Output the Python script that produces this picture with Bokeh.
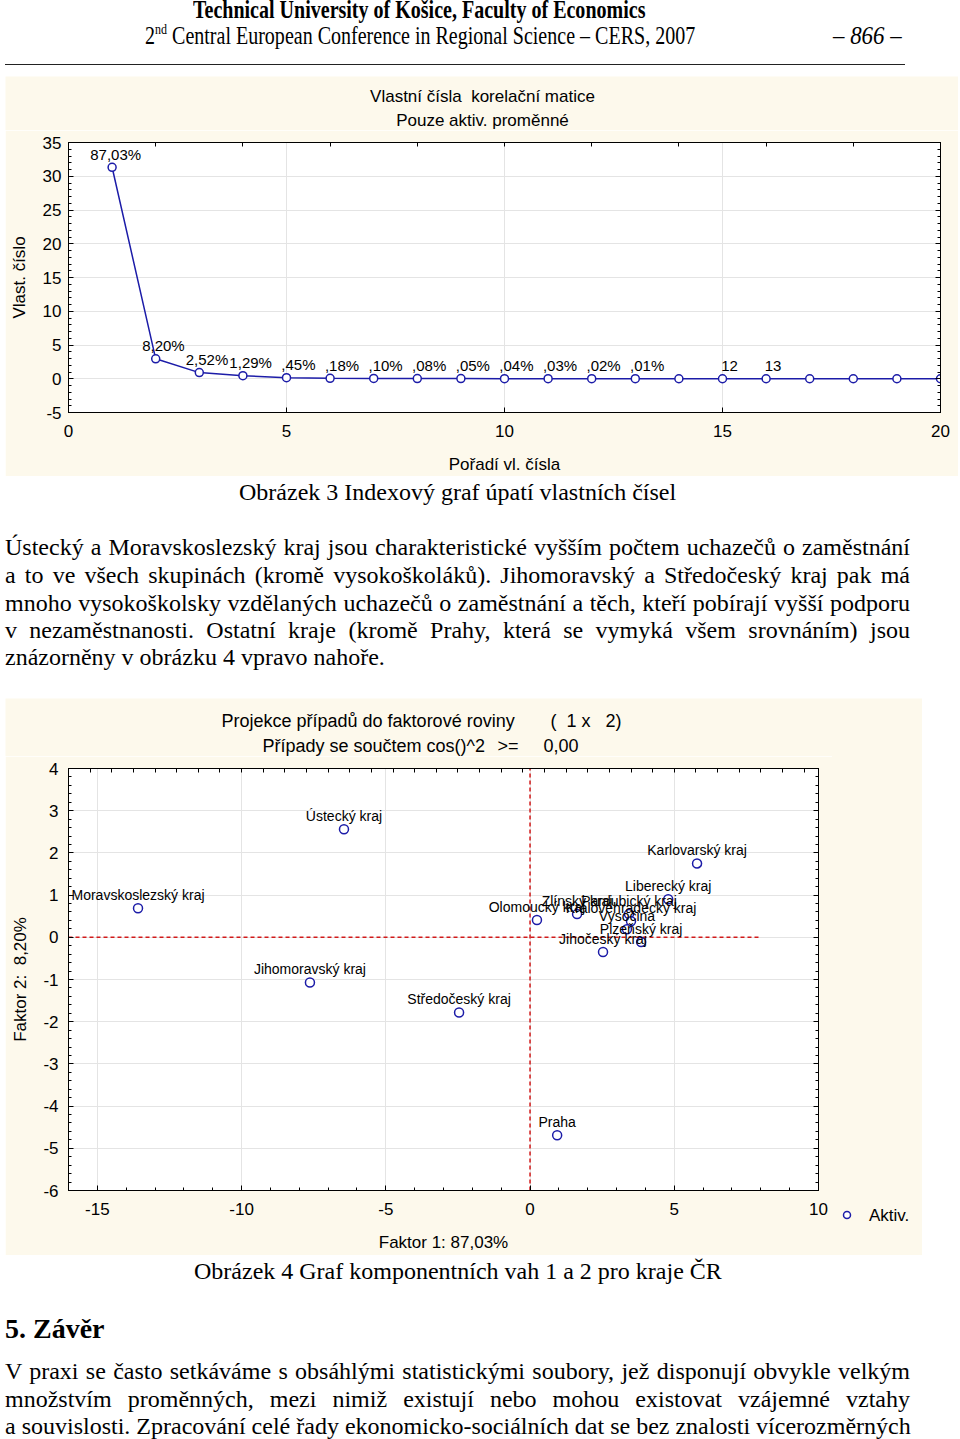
from bokeh.plotting import figure
from bokeh.models import (Div, FixedTicker, LinearAxis, ColumnDataSource, Range1d, Spacer)
from bokeh.layouts import column, row
from bokeh.embed import file_html
from bokeh.resources import INLINE
from bokeh.core.properties import value

# ---------------- data: Obrázek 3 (scree plot) ----------------
eig_order = [1, 2, 3, 4, 5, 6, 7, 8, 9, 10, 11, 12, 13, 14, 15, 16, 17, 18, 19, 20]
eig_values = [31.33, 2.95, 0.91, 0.46, 0.16, 0.06, 0.04, 0.03, 0.02, 0.01,
              0.01, 0.01, 0.004, 0.0, 0.0, 0.0, 0.0, 0.0, 0.0, 0.0]
eig_pct_labels = ["87,03%", "8,20%", "2,52%", "1,29%", ",45%", ",18%", ",10%",
                  ",08%", ",05%", ",04%", ",03%", ",02%", ",01%"]
eig_extra_order = [15, 16]
eig_extra_values = [0.0, 0.0]
eig_extra_labels = ["12", "13"]
scree_x_ticks = [0, 5, 10, 15, 20]
scree_y_ticks = [-5, 0, 5, 10, 15, 20, 25, 30, 35]

# ---------------- data: Obrázek 4 (factor plane) ----------------
regions = ["Ústecký kraj", "Karlovarský kraj", "Moravskoslezský kraj", "Liberecký kraj",
           "Olomoucký kraj", "Zlínský kraj", "Pardubický kraj", "Královéhradecký kraj",
           "Vysočina", "Plzeňský kraj", "Jihočeský kraj", "Jihomoravský kraj",
           "Středočeský kraj", "Praha"]
factor1 = [-6.45, 5.79, -13.59, 4.79, 0.24, 1.63, 3.43, 3.50, 3.36, 3.85, 2.53, -7.63, -2.46, 0.94]
factor2 = [2.56, 1.75, 0.69, 0.90, 0.41, 0.55, 0.55, 0.38, 0.19, -0.11, -0.35, -1.07, -1.78, -4.69]
fac_x_ticks = [-15, -10, -5, 0, 5, 10]
fac_y_ticks = [-6, -5, -4, -3, -2, -1, 0, 1, 2, 3, 4]
zero_h_x = [-16, 8]
zero_h_y = [0, 0]
zero_v_x = [0, 0]
zero_v_y = [-6, 4]
legend_label = "Aktiv."

# chart titles
title1_texts = ["Vlastní čísla\u00a0\u00a0korelační matice", "Pouze aktiv. proměnné"]
title2_texts = ["Projekce případů do faktorové roviny", "(\u00a0\u00a01 x\u00a0\u00a0\u00a02)",
                "Případy se součtem cos()^2", ">=", "0,00"]

BEIGE = "#fdf9ec"
BLUE = "#1c1ca8"
RED = "#d21a1a"
GRID = "#e4e4e4"
SANS = "Liberation Sans"
SERIF = "Liberation Serif"


def style_axis(ax, ticks, minor, show_labels=True, fs="17px"):
    ax.ticker = FixedTicker(ticks=ticks, minor_ticks=minor)
    ax.major_tick_in = 5
    ax.major_tick_out = 0
    ax.minor_tick_in = 3
    ax.minor_tick_out = 0
    ax.axis_line_color = "black"
    ax.major_tick_line_color = "black"
    ax.minor_tick_line_color = "black"
    ax.major_label_text_font = SANS
    ax.major_label_text_color = "black"
    ax.axis_label_text_font = SANS
    ax.axis_label_text_font_style = "normal"
    ax.axis_label_text_font_size = "17px"
    ax.axis_label_text_color = "black"
    if show_labels:
        ax.major_label_text_font_size = fs
        ax.major_label_overrides = {t: str(t) for t in ticks}
    else:
        ax.major_label_text_font_size = "0px"
        ax.major_label_text_color = None
        ax.major_label_standoff = 0


def blank(width, height):
    s = figure(width=width, height=height, x_range=Range1d(0, width), y_range=Range1d(height, 0),
               output_backend="svg", toolbar_location=None, margin=0,
               min_border=0, x_axis_location=None, y_axis_location=None,
               background_fill_color=BEIGE, border_fill_color=BEIGE, outline_line_color=None)
    s.title.visible = False
    s.grid.visible = False
    return s


def strip(width, height, xs, ys, texts, align, fs="17px"):
    s = blank(width, height)
    s.text(x=xs, y=ys, text=texts, text_align=align, text_baseline="middle",
           text_font=value(SANS), text_font_size=fs, text_color="black")
    return s


def shifted(*figs, h):
    return row(Spacer(width=5, height=h, margin=0), *figs, spacing=0, margin=0)


# ================= Figure 1 : scree plot =================
t1 = strip(953, 54, [477, 477], [20, 44], title1_texts, "center")

p1 = figure(width=953, height=346, x_range=Range1d(0, 20), y_range=Range1d(-5, 35),
            output_backend="svg", toolbar_location=None, margin=0,
            min_border_left=63, min_border_right=18, min_border_top=12, min_border_bottom=64,
            border_fill_color=BEIGE, background_fill_color="white",
            outline_line_color="black", outline_line_width=1)
p1.title.visible = False
style_axis(p1.xaxis[0], scree_x_ticks, [])
p1.xaxis[0].major_label_standoff = 12
p1.xaxis[0].axis_label = "Pořadí vl. čísla"
p1.xaxis[0].axis_label_standoff = 15
style_axis(p1.yaxis[0], scree_y_ticks, [v for v in range(-5, 36)])
p1.yaxis[0].major_label_standoff = 7
p1.yaxis[0].axis_label = "Vlast. číslo"
p1.yaxis[0].axis_label_standoff = 11
top1 = LinearAxis()
style_axis(top1, [0, 2, 4, 6, 8, 10, 12, 14, 16, 18, 20], [], show_labels=False)
top1.major_tick_in = 4
p1.add_layout(top1, "above")
right1 = LinearAxis()
style_axis(right1, scree_y_ticks, [v for v in range(-5, 36)], show_labels=False)
p1.add_layout(right1, "right")
p1.xgrid.ticker = FixedTicker(ticks=[5, 10, 15])
p1.ygrid.ticker = FixedTicker(ticks=scree_y_ticks)
p1.xgrid.grid_line_color = GRID
p1.ygrid.grid_line_color = GRID

p1.line(eig_order, eig_values, line_color=BLUE, line_width=1.5)
p1.scatter(eig_order, eig_values, marker="circle", size=8, fill_color="white",
           line_color=BLUE, line_width=1.5)
lab_src = ColumnDataSource(dict(x=eig_order[:len(eig_pct_labels)],
                                y=eig_values[:len(eig_pct_labels)], t=eig_pct_labels))
p1.text(x="x", y="y", text="t", source=lab_src, text_align="right", text_baseline="middle",
        x_offset=29, y_offset=-13, text_font=value(SANS), text_font_size="15px",
        text_color="black")
p1.text(x=eig_extra_order, y=eig_extra_values, text=eig_extra_labels, text_align="center",
        text_baseline="middle", x_offset=7, y_offset=-13, text_font=value(SANS),
        text_font_size="15px", text_color="black")

# ================= Figure 2 : factor plane =================
t2 = strip(917, 58, [216, 545, 257, 492, 538], [22, 22, 47, 47, 47], title2_texts, "left", fs="18px")

p2 = figure(width=827, height=499, x_range=Range1d(-16, 10), y_range=Range1d(-6, 4),
            output_backend="svg", toolbar_location=None, margin=0,
            min_border_left=63, min_border_right=14, min_border_top=12, min_border_bottom=65,
            border_fill_color=BEIGE, background_fill_color="white",
            outline_line_color="black", outline_line_width=1)
p2.title.visible = False
style_axis(p2.xaxis[0], fac_x_ticks, [v for v in range(-16, 11)])
p2.xaxis[0].major_label_standoff = 12
p2.xaxis[0].axis_label = "Faktor 1: 87,03%"
p2.xaxis[0].axis_label_standoff = 15
style_axis(p2.yaxis[0], fac_y_ticks, [v / 5 for v in range(-30, 21)])
p2.yaxis[0].major_label_standoff = 10
p2.yaxis[0].axis_label = "Faktor 2:\u00a0\u00a08,20%"
p2.yaxis[0].axis_label_standoff = 10
top2 = LinearAxis()
style_axis(top2, [-16 + 0.75 * k for k in range(1, 35)], [], show_labels=False)
top2.major_tick_in = 4
p2.add_layout(top2, "above")
right2 = LinearAxis()
style_axis(right2, fac_y_ticks, [v / 5 for v in range(-30, 21)], show_labels=False)
p2.add_layout(right2, "right")
p2.xgrid.ticker = FixedTicker(ticks=fac_x_ticks)
p2.ygrid.ticker = FixedTicker(ticks=fac_y_ticks)
p2.xgrid.grid_line_color = GRID
p2.ygrid.grid_line_color = GRID

p2.line(zero_h_x, zero_h_y, line_color=RED, line_width=1.5, line_dash="4 3")
p2.line(zero_v_x, zero_v_y, line_color=RED, line_width=1.5, line_dash="4 3")
src2 = ColumnDataSource(dict(x=factor1, y=factor2, name=regions))
p2.scatter(x="x", y="y", source=src2, marker="circle", size=9, fill_color="white",
           line_color=BLUE, line_width=1.5)
p2.text(x="x", y="y", text="name", source=src2, text_align="center", text_baseline="middle",
        y_offset=-13, text_font=value(SANS), text_font_size="14px", text_color="black")

# legend key (Aktiv.) in the beige strip to the right of the factor plane
leg_html = (
    f'<div style="position:relative;width:90px;height:499px;background:{BEIGE};">'
    '<svg style="position:absolute;left:10px;top:454px;" width="10" height="10">'
    f'<circle cx="5" cy="5" r="3.5" fill="white" stroke="{BLUE}" stroke-width="1.5"/></svg>'
    f'<div style="position:absolute;left:37px;top:451px;white-space:nowrap;font-family:\'{SANS}\';'
    f'font-size:17px;line-height:17px;color:#000;">{legend_label}</div>'
    '</div>')
lg = Div(text=leg_html, width=90, height=499, margin=0,
         styles={"overflow": "visible", "background-color": BEIGE})

# ================= text blocks =================
para1 = ["Ústecký a Moravskoslezský kraj jsou charakteristické vyšším počtem uchazečů o zaměstnání",
         "a to ve všech skupinách (kromě vysokoškoláků). Jihomoravský a Středočeský kraj pak má",
         "mnoho vysokoškolsky vzdělaných uchazečů o zaměstnání a těch, kteří pobírají vyšší podporu",
         "v nezaměstnanosti. Ostatní kraje (kromě Prahy, která se vymyká všem srovnáním) jsou",
         "znázorněny v obrázku 4 vpravo nahoře."]
para2 = ["V praxi se často setkáváme s obsáhlými statistickými soubory, jež disponují obvykle velkým",
         "množstvím proměnných, mezi nimiž existují nebo mohou existovat vzájemné vztahy",
         "a souvislosti. Zpracování celé řady ekonomicko-sociálních dat se bez znalosti vícerozměrných"]


def line_div(txt, top, left=5, width=905, justify=True, size=24, extra=""):
    align = "text-align:justify;text-align-last:justify;" if justify else "text-align:left;"
    return (f'<div style="position:absolute;left:{left}px;top:{top}px;width:{width}px;'
            f'font-family:\'{SERIF}\';font-size:{size}px;line-height:{size}px;white-space:nowrap;'
            f'color:#000;{align}{extra}">{txt}</div>')


head_html = (
    '<div style="position:relative;width:955px;height:76px;">'
    f'<div style="position:absolute;left:193px;top:0px;white-space:nowrap;font-family:\'{SERIF}\';'
    'font-weight:bold;font-size:26px;line-height:20px;transform:scaleX(0.77);transform-origin:left top;color:#000;">'
    'Technical University of Košice, Faculty of Economics</div>'
    f'<div style="position:absolute;left:145px;top:23px;white-space:nowrap;font-family:\'{SERIF}\';'
    'font-size:26px;line-height:26px;transform:scaleX(0.77);transform-origin:left top;color:#000;">'
    '2<sup style="font-size:60%;line-height:0;">nd</sup> Central European Conference in Regional Science – CERS, 2007</div>'
    f'<div style="position:absolute;left:833px;top:23px;white-space:nowrap;font-family:\'{SERIF}\';'
    'font-style:italic;font-size:26px;line-height:26px;transform:scaleX(0.88);transform-origin:left top;color:#000;">'
    '– 866 –</div>'
    '<div style="position:absolute;left:5px;top:64px;width:900px;border-top:1px solid #222;"></div>'
    '</div>')
header = Div(text=head_html, width=955, height=76, margin=0, styles={"overflow": "visible"})

mid_html = '<div style="position:relative;width:955px;height:222px;">'
mid_html += line_div("Obrázek 3 Indexový graf úpatí vlastních čísel", 4, left=239, width=600, justify=False)
for i, (t, top) in enumerate(zip(para1, [59, 87, 115, 142, 169])):
    mid_html += line_div(t, top, justify=(i < len(para1) - 1))
mid_html += '</div>'
mid = Div(text=mid_html, width=955, height=222, margin=0, styles={"overflow": "visible"})

foot_html = '<div style="position:relative;width:955px;height:184px;">'
foot_html += line_div("Obrázek 4 Graf komponentních vah 1 a 2 pro kraje ČR", 4, left=194, width=700, justify=False)
foot_html += line_div("5. Závěr", 60, left=5, width=300, justify=False, size=28, extra="font-weight:bold;")
for t, top in zip(para2, [104, 132, 159]):
    foot_html += line_div(t, top)
foot_html += '</div>'
foot = Div(text=foot_html, width=955, height=184, margin=0, styles={"overflow": "visible"})

layout = column(header, shifted(t1, h=54), shifted(p1, h=346), mid, shifted(t2, h=58),
                shifted(p2, lg, h=499), foot, spacing=0, margin=0)
open("out.html", "w").write(file_html(layout, INLINE))
